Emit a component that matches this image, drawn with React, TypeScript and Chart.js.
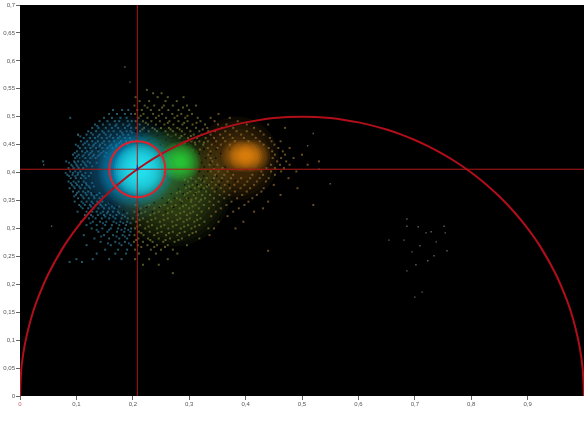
import React, { useEffect, useRef } from "react";
import { Chart, registerables } from "chart.js";

Chart.register(...registerables);

const xTicks = [0, 0.1, 0.2, 0.3, 0.4, 0.5, 0.6, 0.7, 0.8, 0.9];

const arcLeftX = [0, 0.002, 0.005, 0.01, 0.02, 0.03, 0.05, 0.075, 0.1, 0.125, 0.15, 0.175, 0.2, 0.225, 0.25, 0.275, 0.3, 0.325, 0.35, 0.375, 0.4, 0.425, 0.45, 0.475, 0.5];
const arcLeftY = [0, 0.0447, 0.0705, 0.0995, 0.14, 0.1706, 0.2179, 0.2634, 0.3, 0.3307, 0.3571, 0.38, 0.4, 0.4176, 0.433, 0.4465, 0.4583, 0.4684, 0.477, 0.4841, 0.4899, 0.4943, 0.4975, 0.4994, 0.5];
const arcRightX = [0.525, 0.55, 0.575, 0.6, 0.625, 0.65, 0.675, 0.7, 0.725, 0.75, 0.775, 0.8, 0.825, 0.85, 0.875, 0.9, 0.925, 0.95, 0.97, 0.98, 0.99, 0.995, 0.998, 1];
const arcRightY = [0.4994, 0.4975, 0.4943, 0.4899, 0.4841, 0.477, 0.4684, 0.4583, 0.4465, 0.433, 0.4176, 0.4, 0.38, 0.3571, 0.3307, 0.3, 0.2634, 0.2179, 0.1706, 0.14, 0.0995, 0.0705, 0.0447, 0];

const cursorX = 0.208;
const cursorY = 0.406;

type Row = [number, number[]];

const tealRows: Row[] = [
  [0.512, [0.165, 0.181, 0.192]],
  [0.505, [0.158, 0.172, 0.186, 0.197]],
  [0.498, [0.089, 0.149, 0.163, 0.178, 0.189]],
  [0.492, [0.141, 0.155, 0.168, 0.176, 0.191, 0.198]],
  [0.486, [0.133, 0.147, 0.159, 0.171, 0.183, 0.194]],
  [0.48, [0.128, 0.139, 0.152, 0.163, 0.174, 0.186, 0.197]],
  [0.474, [0.121, 0.135, 0.146, 0.157, 0.166, 0.178, 0.189, 0.196]],
  [0.468, [0.103, 0.118, 0.129, 0.141, 0.152, 0.161, 0.172, 0.183, 0.192]],
  [0.462, [0.113, 0.124, 0.133, 0.145, 0.154, 0.165, 0.174, 0.186, 0.195]],
  [0.456, [0.108, 0.119, 0.128, 0.138, 0.149, 0.158, 0.167, 0.179, 0.188, 0.197]],
  [0.45, [0.099, 0.112, 0.122, 0.131, 0.142, 0.151, 0.162, 0.171, 0.182, 0.191]],
  [0.444, [0.106, 0.116, 0.125, 0.135, 0.146, 0.155, 0.164, 0.176]],
  [0.438, [0.101, 0.11, 0.119, 0.128, 0.139, 0.148]],
  [0.432, [0.094, 0.104, 0.113, 0.122, 0.131, 0.141]],
  [0.426, [0.098, 0.107, 0.116, 0.125, 0.134]],
  [0.42, [0.041, 0.082, 0.096, 0.103, 0.111, 0.12]],
  [0.414, [0.091, 0.1, 0.108, 0.116]],
  [0.408, [0.086, 0.095, 0.104, 0.112]],
  [0.402, [0.089, 0.098, 0.107]],
  [0.396, [0.084, 0.093, 0.102, 0.11]],
  [0.39, [0.09, 0.099, 0.108, 0.116]],
  [0.384, [0.086, 0.095, 0.104, 0.113]],
  [0.378, [0.092, 0.101, 0.11, 0.118]],
  [0.372, [0.088, 0.097, 0.107, 0.115, 0.124]],
  [0.366, [0.094, 0.104, 0.112, 0.121]],
  [0.36, [0.099, 0.108, 0.118, 0.127, 0.136]],
  [0.354, [0.103, 0.113, 0.122, 0.132, 0.141]],
  [0.348, [0.097, 0.109, 0.118, 0.127, 0.137, 0.146]],
  [0.342, [0.105, 0.115, 0.124, 0.134, 0.143, 0.152]],
  [0.336, [0.111, 0.121, 0.13, 0.139, 0.149, 0.158, 0.167]],
  [0.33, [0.102, 0.118, 0.128, 0.136, 0.147, 0.156, 0.165, 0.174]],
  [0.324, [0.115, 0.126, 0.138, 0.149, 0.16, 0.171, 0.182]],
  [0.318, [0.122, 0.134, 0.145, 0.158, 0.169, 0.18, 0.191]],
  [0.312, [0.108, 0.129, 0.142, 0.153, 0.166, 0.178, 0.19]],
  [0.306, [0.118, 0.136, 0.151, 0.163, 0.176, 0.188]],
  [0.3, [0.127, 0.146, 0.161, 0.174, 0.186, 0.197]],
  [0.294, [0.139, 0.155, 0.172, 0.185, 0.196]],
  [0.288, [0.113, 0.149, 0.165, 0.182, 0.194]],
  [0.282, [0.132, 0.158, 0.176, 0.19]],
  [0.276, [0.143, 0.169, 0.186]],
  [0.27, [0.118, 0.161, 0.18, 0.197]],
  [0.262, [0.151, 0.174, 0.19]],
  [0.255, [0.136, 0.169, 0.188]],
  [0.245, [0.1, 0.129, 0.158, 0.18]],
  [0.24, [0.088, 0.11]],
];

const tealExtraRows: Row[] = [
  [0.4835, [0.137, 0.169, 0.191]],
  [0.4712, [0.126, 0.149, 0.181, 0.199]],
  [0.4647, [0.107, 0.138, 0.159, 0.177]],
  [0.4528, [0.115, 0.134, 0.146, 0.176, 0.193]],
  [0.4473, [0.103, 0.129, 0.141, 0.159, 0.17]],
  [0.4351, [0.097, 0.115, 0.125, 0.144, 0.153]],
  [0.4292, [0.101, 0.111, 0.129, 0.138, 0.15]],
  [0.4176, [0.087, 0.098, 0.114, 0.124, 0.136]],
  [0.4113, [0.093, 0.102, 0.118, 0.128]],
  [0.3994, [0.081, 0.094, 0.103, 0.116, 0.126]],
  [0.3937, [0.087, 0.098, 0.113, 0.122]],
  [0.3812, [0.09, 0.099, 0.117, 0.128]],
  [0.3752, [0.095, 0.105, 0.122, 0.131]],
  [0.3634, [0.101, 0.116, 0.126, 0.141]],
  [0.3573, [0.096, 0.111, 0.131, 0.146]],
  [0.3451, [0.112, 0.129, 0.141, 0.158]],
  [0.3392, [0.108, 0.126, 0.146, 0.163, 0.176]],
  [0.3271, [0.122, 0.143, 0.154, 0.176, 0.19]],
  [0.3213, [0.129, 0.151, 0.165, 0.186]],
  [0.3094, [0.125, 0.147, 0.171, 0.183, 0.196]],
  [0.2975, [0.136, 0.158, 0.18, 0.192]],
  [0.2856, [0.144, 0.171, 0.186]],
  [0.2733, [0.156, 0.176, 0.193]],
];

const oliveRows: Row[] = [
  [0.548, [0.225]],
  [0.542, [0.236, 0.251]],
  [0.535, [0.205, 0.244, 0.262, 0.29]],
  [0.528, [0.212, 0.229, 0.258, 0.278]],
  [0.52, [0.203, 0.221, 0.238, 0.255, 0.271, 0.296, 0.312]],
  [0.512, [0.208, 0.216, 0.232, 0.247, 0.263, 0.281, 0.3]],
  [0.505, [0.204, 0.219, 0.236, 0.252, 0.27, 0.286, 0.305]],
  [0.498, [0.21, 0.226, 0.241, 0.259, 0.274, 0.293, 0.315]],
  [0.492, [0.205, 0.218, 0.233, 0.248, 0.265, 0.281, 0.297, 0.32]],
  [0.486, [0.212, 0.227, 0.241, 0.256, 0.272, 0.288, 0.306, 0.328]],
  [0.48, [0.206, 0.22, 0.235, 0.25, 0.264, 0.279, 0.296, 0.312]],
  [0.474, [0.213, 0.228, 0.243, 0.258, 0.271, 0.287, 0.302, 0.318, 0.334]],
  [0.468, [0.262, 0.276, 0.292, 0.308, 0.322]],
  [0.462, [0.283, 0.298, 0.314, 0.329]],
  [0.456, [0.304, 0.318, 0.333]],
  [0.45, [0.311, 0.325]],
  [0.39, [0.303, 0.317, 0.331]],
  [0.384, [0.298, 0.312, 0.327]],
  [0.378, [0.306, 0.321, 0.335]],
  [0.372, [0.294, 0.31, 0.326]],
  [0.366, [0.284, 0.302, 0.317, 0.33]],
  [0.36, [0.292, 0.308, 0.323]],
  [0.354, [0.278, 0.296, 0.312, 0.328]],
  [0.348, [0.268, 0.287, 0.303, 0.318]],
  [0.342, [0.205, 0.229, 0.256, 0.276, 0.294, 0.311, 0.326]],
  [0.336, [0.214, 0.238, 0.262, 0.283, 0.3, 0.317]],
  [0.33, [0.203, 0.222, 0.246, 0.27, 0.291, 0.307, 0.322]],
  [0.324, [0.209, 0.231, 0.254, 0.277, 0.296, 0.314]],
  [0.318, [0.2, 0.218, 0.24, 0.262, 0.284, 0.301, 0.32]],
  [0.312, [0.206, 0.226, 0.248, 0.27, 0.29, 0.309, 0.327]],
  [0.306, [0.213, 0.234, 0.256, 0.277, 0.298, 0.318]],
  [0.3, [0.204, 0.222, 0.243, 0.263, 0.285, 0.304, 0.334]],
  [0.294, [0.211, 0.23, 0.251, 0.271, 0.292, 0.312]],
  [0.288, [0.203, 0.219, 0.238, 0.259, 0.279, 0.3]],
  [0.282, [0.21, 0.227, 0.246, 0.266, 0.287, 0.318]],
  [0.276, [0.202, 0.218, 0.235, 0.254, 0.274]],
  [0.27, [0.209, 0.226, 0.243, 0.262, 0.296]],
  [0.262, [0.204, 0.232, 0.25, 0.271]],
  [0.255, [0.211, 0.241, 0.279]],
  [0.245, [0.204, 0.229, 0.262]],
  [0.235, [0.218, 0.246]],
  [0.22, [0.271]],
];

const oliveExtraRows: Row[] = [
  [0.5163, [0.226, 0.252, 0.289]],
  [0.5017, [0.214, 0.246, 0.279, 0.297]],
  [0.4891, [0.223, 0.262, 0.291, 0.313]],
  [0.4773, [0.217, 0.239, 0.267, 0.283, 0.324]],
  [0.4655, [0.268, 0.286, 0.303, 0.317]],
  [0.4537, [0.292, 0.31, 0.326]],
  [0.4412, [0.306, 0.319]],
  [0.3874, [0.292, 0.306, 0.321]],
  [0.3752, [0.3, 0.317, 0.331]],
  [0.3633, [0.278, 0.297, 0.312]],
  [0.3514, [0.264, 0.284, 0.304, 0.321]],
  [0.3396, [0.223, 0.248, 0.269, 0.289, 0.306]],
  [0.3272, [0.215, 0.238, 0.262, 0.284, 0.302]],
  [0.3154, [0.212, 0.233, 0.255, 0.279, 0.296, 0.314]],
  [0.3035, [0.208, 0.228, 0.25, 0.271, 0.291, 0.31]],
  [0.2917, [0.215, 0.244, 0.264, 0.283, 0.306]],
  [0.2793, [0.206, 0.231, 0.258, 0.281]],
  [0.2668, [0.215, 0.238, 0.257]],
];

const brownRows: Row[] = [
  [0.505, [0.352]],
  [0.498, [0.338, 0.372]],
  [0.492, [0.345, 0.386]],
  [0.486, [0.351, 0.366, 0.402, 0.44]],
  [0.48, [0.332, 0.358, 0.378, 0.415, 0.47]],
  [0.474, [0.346, 0.364, 0.384, 0.402, 0.426]],
  [0.468, [0.338, 0.355, 0.372, 0.392, 0.412, 0.432]],
  [0.462, [0.344, 0.36, 0.377, 0.397, 0.418, 0.443]],
  [0.456, [0.348, 0.364, 0.381, 0.405, 0.425, 0.446, 0.462]],
  [0.45, [0.34, 0.356, 0.372, 0.432, 0.451]],
  [0.444, [0.333, 0.35, 0.441, 0.458, 0.478]],
  [0.438, [0.338, 0.447, 0.466]],
  [0.432, [0.334, 0.452, 0.47, 0.5]],
  [0.426, [0.338, 0.448, 0.463, 0.485]],
  [0.42, [0.341, 0.456, 0.472, 0.53]],
  [0.414, [0.336, 0.35, 0.445, 0.461, 0.478, 0.51]],
  [0.408, [0.344, 0.359, 0.437, 0.452, 0.468]],
  [0.402, [0.338, 0.352, 0.368, 0.428, 0.445, 0.463, 0.49]],
  [0.396, [0.346, 0.362, 0.378, 0.412, 0.431, 0.452]],
  [0.39, [0.344, 0.358, 0.374, 0.392, 0.408, 0.425, 0.441, 0.476]],
  [0.384, [0.34, 0.352, 0.368, 0.386, 0.403, 0.42, 0.436]],
  [0.378, [0.347, 0.363, 0.38, 0.398, 0.415, 0.45]],
  [0.372, [0.341, 0.356, 0.372, 0.391, 0.408, 0.432, 0.492]],
  [0.366, [0.345, 0.362, 0.381, 0.402, 0.428]],
  [0.36, [0.337, 0.354, 0.371, 0.394, 0.42, 0.462]],
  [0.354, [0.344, 0.362, 0.385, 0.412]],
  [0.348, [0.336, 0.352, 0.375, 0.405, 0.44]],
  [0.342, [0.343, 0.366, 0.398, 0.52]],
  [0.336, [0.335, 0.356, 0.388, 0.431]],
  [0.33, [0.347, 0.378, 0.415]],
  [0.322, [0.339, 0.368]],
  [0.312, [0.352, 0.396]],
  [0.3, [0.344, 0.382]],
  [0.288, [0.336]],
  [0.26, [0.44]],
];

const grayPoints: number[][] = [
  [0.186, 0.589], [0.195, 0.562], [0.103, 0.467], [0.686, 0.317], [0.686, 0.304], [0.706, 0.303], [0.752, 0.304], [0.729, 0.294],
  [0.72, 0.292], [0.754, 0.292], [0.654, 0.279], [0.681, 0.279], [0.738, 0.276], [0.709, 0.269], [0.695, 0.258], [0.757, 0.26],
  [0.734, 0.251], [0.723, 0.242], [0.702, 0.235], [0.686, 0.224], [0.713, 0.186], [0.70, 0.177], [0.52, 0.47], [0.51, 0.448],
  [0.53, 0.406], [0.55, 0.38], [0.056, 0.304], [0.042, 0.414],
];

const holeRows: Row[] = [
  [0.474, [0.205, 0.224, 0.251, 0.279]],
  [0.466, [0.216, 0.244, 0.268, 0.293]],
  [0.458, [0.228, 0.259, 0.286, 0.304]],
  [0.45, [0.249, 0.278, 0.296]],
  [0.442, [0.103, 0.121, 0.138, 0.306, 0.326, 0.348, 0.372]],
  [0.434, [0.113, 0.318, 0.338, 0.356]],
  [0.426, [0.108, 0.329, 0.347]],
  [0.418, [0.322, 0.338]],
  [0.41, [0.327, 0.344, 0.364]],
  [0.402, [0.318, 0.333]],
  [0.394, [0.326, 0.349]],
  [0.386, [0.107, 0.306, 0.323, 0.341, 0.358, 0.382]],
  [0.378, [0.114, 0.292, 0.314, 0.332, 0.353, 0.371]],
  [0.37, [0.122, 0.281, 0.303, 0.321, 0.348]],
  [0.362, [0.131, 0.268, 0.289, 0.311]],
  [0.354, [0.148, 0.252, 0.274, 0.298]],
  [0.346, [0.159, 0.238, 0.261, 0.286]],
  [0.338, [0.172, 0.224, 0.247, 0.272]],
  [0.33, [0.184, 0.211, 0.235, 0.258]],
];

const blueGlowCenter = [0.188, 0.405];
const blueGlowRadii = [54, 51, 48, 45, 42, 39, 36, 33, 30, 27, 24];
const tealGlowCenter = [0.245, 0.41];
const tealGlowRadii = [40, 36, 32, 28, 24, 20, 16, 12];
const oliveGlowCenter = [0.27, 0.375];
const oliveGlowRadii = [60, 56, 52, 48, 44, 40, 36, 32, 28];
const skyGlowCenter = [0.205, 0.405];
const skyGlowRadii = [38, 36, 34, 32, 30, 28, 26, 24, 22, 20];
const cyanGlowCenter = [0.212, 0.405];
const cyanGlowRadii = [26, 24, 22, 20, 18, 16, 14, 12, 10, 8, 6];
const greenGlowCenter = [0.285, 0.42];
const greenGlowRadii = [20, 18, 16, 14, 12, 10, 8, 6, 4];
const brownGlowCenter = [0.385, 0.425];
const brownGlowRadii = [42, 38, 34, 30, 26, 22];
const orangeGlowCenters = [[0.385, 0.43], [0.4, 0.43], [0.415, 0.43]];
const orangeGlowRadii = [16, 14, 12, 10, 8, 6, 4];

const flatten = (rows: Row[]) => rows.flatMap(([y, xs]) => xs.map((x) => ({ x, y })));
const pairs = (a: number[], b: number[]) => a.map((x, i) => ({ x, y: b[i] }));

function glow(center: number[], radii: number[], color: string, order: number) {
  return {
    type: "scatter" as const,
    data: radii.map(() => ({ x: center[0], y: center[1] })),
    pointRadius: radii,
    pointHoverRadius: radii,
    backgroundColor: color,
    borderWidth: 0,
    order,
  };
}

function dots(data: { x: number; y: number }[], color: string, order: number, radius = 1.4) {
  return {
    type: "scatter" as const,
    data,
    pointStyle: "rect",
    pointRadius: radius,
    backgroundColor: color,
    borderWidth: 0,
    order,
  };
}

const plotBackground = {
  id: "plotBackground",
  beforeDatasetsDraw(chart: Chart) {
    const { ctx, chartArea: a } = chart;
    ctx.save();
    ctx.fillStyle = "#000";
    ctx.fillRect(a.left, a.top, a.width, a.height);
    ctx.restore();
  },
};

export default function App() {
  const ref = useRef<HTMLCanvasElement>(null);
  useEffect(() => {
    const chart = new Chart(ref.current!, {
      type: "scatter",
      data: {
        datasets: [
          dots(flatten(tealRows), "rgba(45,120,140,0.75)", 21),
          dots(flatten(tealExtraRows), "rgba(35,105,145,0.75)", 21),
          dots(flatten(oliveRows), "rgba(110,120,50,0.75)", 21),
          dots(flatten(oliveExtraRows), "rgba(125,115,45,0.75)", 21),
          dots(flatten(brownRows), "rgba(140,105,50,0.75)", 21),
          glow(blueGlowCenter, blueGlowRadii, "rgba(20,110,165,0.08)", 20),
          glow(oliveGlowCenter, oliveGlowRadii, "rgba(100,120,35,0.075)", 19),
          glow(brownGlowCenter, brownGlowRadii, "rgba(150,105,20,0.08)", 18),
          dots(grayPoints.map(([x, y]) => ({ x, y })), "rgba(105,105,100,0.9)", 14, 1),
          dots(flatten(holeRows), "rgba(0,0,0,0.75)", 13, 1.1),
          glow(tealGlowCenter, tealGlowRadii, "rgba(40,170,110,0.06)", 12),
          glow(skyGlowCenter, skyGlowRadii, "rgba(0,170,225,0.09)", 11),
          glow(cyanGlowCenter, cyanGlowRadii, "rgba(40,235,250,0.17)", 10),
          glow(greenGlowCenter, greenGlowRadii, "rgba(45,240,60,0.13)", 9),
          ...orangeGlowCenters.map((c) => glow(c, orangeGlowRadii, "rgba(255,145,15,0.1)", 8)),
          {
            type: "line",
            data: pairs([0, 1], [cursorY, cursorY]),
            borderColor: "#b01818",
            borderWidth: 1,
            pointRadius: 0,
            order: 5,
          },
          {
            type: "line",
            data: pairs([cursorX, cursorX], [0, 0.7]),
            borderColor: "#b01818",
            borderWidth: 1,
            pointRadius: 0,
            order: 5,
          },
          {
            type: "line",
            data: pairs([...arcLeftX, ...arcRightX], [...arcLeftY, ...arcRightY]),
            borderColor: "#b00f1a",
            borderWidth: 2,
            pointRadius: 0,
            tension: 0.3,
            order: 4,
          },
          {
            type: "scatter",
            data: [{ x: cursorX, y: cursorY }],
            pointRadius: 28,
            backgroundColor: "rgba(0,0,0,0)",
            borderColor: "#e0202a",
            borderWidth: 2,
            order: 3,
          },
          {
            type: "line",
            data: pairs([cursorX, cursorX], [cursorY, cursorY + 0.008]),
            borderColor: "#1030a0",
            borderWidth: 1,
            pointRadius: 0,
            order: 2,
          },
          {
            type: "scatter",
            data: [{ x: cursorX, y: cursorY }],
            pointStyle: "rect",
            pointRadius: 1.6,
            backgroundColor: "#1030b0",
            borderWidth: 0,
            order: 1,
          },
        ] as any,
      },
      options: {
        responsive: false,
        animation: false,
        events: [],
        layout: { autoPadding: false, padding: { top: 5, right: 3, left: 0, bottom: 0 } },
        plugins: { legend: { display: false }, tooltip: { enabled: false } },
        scales: {
          x: {
            type: "linear",
            min: 0,
            max: 1,
            afterFit(s: any) { s.height = 25; },
            afterBuildTicks(s: any) { s.ticks = xTicks.map((value) => ({ value })); },
            grid: { drawOnChartArea: false, drawTicks: true, tickLength: 4, color: "#666" },
            border: { display: false },
            ticks: {
              autoSkip: false,
              maxRotation: 0,
              padding: 1,
              color: (c: any) => (c.tick && c.tick.value === 0 ? "#c06070" : "#555"),
              font: { family: "Liberation Sans", size: 6 },
              callback: (v: any) => String(v).replace(".", ","),
            },
          },
          y: {
            type: "linear",
            min: 0,
            max: 0.7,
            afterFit(s: any) { s.width = 20; },
            grid: { drawOnChartArea: false, drawTicks: true, tickLength: 4, color: "#666" },
            border: { display: false },
            ticks: {
              stepSize: 0.05,
              autoSkip: false,
              padding: 1,
              color: "#555",
              font: { family: "Liberation Sans", size: 6 },
              callback: (v: any) => String(Math.round(Number(v) * 100) / 100).replace(".", ","),
            },
          },
        },
      },
      plugins: [plotBackground],
    } as any);
    return () => chart.destroy();
  }, []);
  return (
    <div style={{ position: "fixed", left: 0, top: 0, width: 587, height: 421, background: "#fff" }}>
      <canvas ref={ref} width={587} height={421} style={{ display: "block" }} />
    </div>
  );
}
